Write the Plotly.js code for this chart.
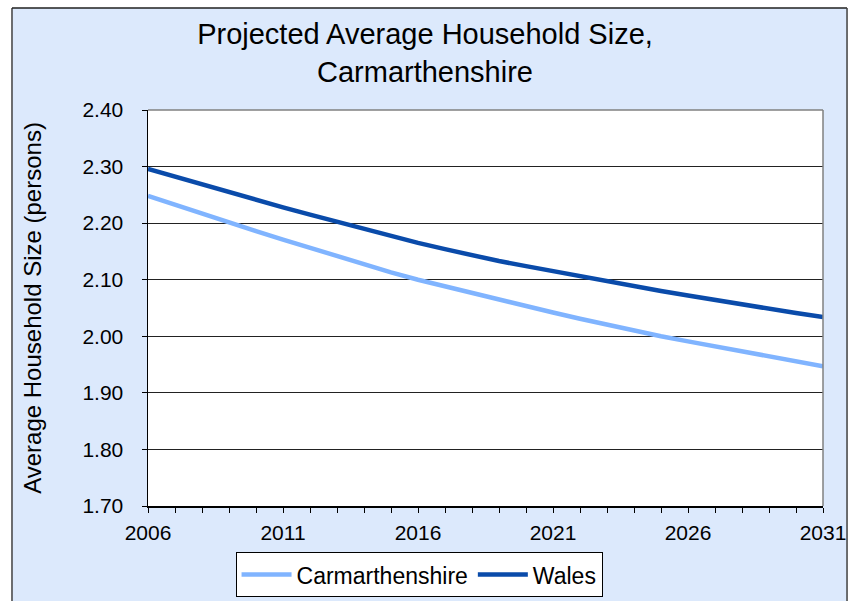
<!DOCTYPE html>
<html>
<head>
<meta charset="utf-8">
<script src="https://cdn.plot.ly/plotly-3.0.1.min.js"></script>
<style>html,body{margin:0;padding:0;background:#fff;}#chart{width:850px;height:601px;}</style>
</head>
<body>
<div id="chart"></div>
<script>
const years = [2006,2007,2008,2009,2010,2011,2012,2013,2014,2015,2016,2017,2018,2019,2020,2021,2022,2023,2024,2025,2026,2027,2028,2029,2030,2031];
const carmarthenshire = [2.248,2.232,2.216,2.201,2.186,2.171,2.156,2.141,2.127,2.113,2.100,2.088,2.076,2.064,2.053,2.042,2.031,2.020,2.010,2.000,1.991,1.982,1.973,1.964,1.955,1.947];
const wales = [2.296,2.282,2.268,2.254,2.241,2.228,2.215,2.202,2.189,2.177,2.165,2.154,2.143,2.133,2.124,2.115,2.105,2.096,2.088,2.080,2.072,2.064,2.057,2.049,2.041,2.034];
const labelYears = [2006,2011,2016,2021,2026,2031];
const yTicks = [1.70,1.80,1.90,2.00,2.10,2.20,2.30,2.40];
const seriesNames = ['Carmarthenshire','Wales'];
const titleText = 'Projected Average Household Size,<br>Carmarthenshire';
const yTitle = 'Average Household Size (persons)';

const FONT = 'Liberation Sans, Arial, sans-serif';
const traces = [
  {x: years, y: carmarthenshire, name: seriesNames[0], type: 'scatter', mode: 'lines',
   line: {color: '#80B4FF', width: 4.5}},
  {x: years, y: wales, name: seriesNames[1], type: 'scatter', mode: 'lines',
   line: {color: '#0A4BAA', width: 4.5}}
];
const layout = {
  width: 850, height: 601,
  paper_bgcolor: '#DCE9FC', plot_bgcolor: '#FFFFFF',
  margin: {l: 148, r: 27, t: 110, b: 95},
  font: {family: FONT, color: '#000'},
  title: {text: titleText, font: {family: FONT, size: 29, color: '#000'},
          x: 0.5, xref: 'container', xanchor: 'center', y: 0.926, yref: 'container', yanchor: 'top'},
  xaxis: {range: [2006, 2031], tickmode: 'array', tickvals: years,
          ticktext: years.map(y => labelYears.includes(y) ? String(y) : ''),
          ticks: 'outside', ticklen: 5, tickcolor: '#000', tickwidth: 1,
          showline: true, linecolor: '#000', linewidth: 1.5, showgrid: false, zeroline: false,
          tickfont: {size: 21, family: FONT}, ticklabelstandoff: 2, fixedrange: true},
  yaxis: {range: [1.70, 2.40], tickmode: 'array', tickvals: yTicks,
          ticktext: yTicks.map(v => v.toFixed(2)),
          ticks: 'outside', ticklen: 5, tickcolor: '#000', tickwidth: 1,
          showline: true, linecolor: '#000', linewidth: 1.5,
          showgrid: true, gridcolor: '#222', gridwidth: 1, zeroline: false,
          tickfont: {size: 21, family: FONT}, ticklabelstandoff: 14,
          title: {text: yTitle, font: {size: 24, family: FONT}, standoff: 34}, fixedrange: true},
  showlegend: true,
  legend: {orientation: 'h', xref: 'container', yref: 'container', x: 0.493, xanchor: 'center', y: 0.0814, yanchor: 'top',
           bgcolor: '#FFFFFF', bordercolor: '#000', borderwidth: 1,
           font: {size: 23, family: FONT}, itemwidth: 50, tracegroupgap: 0},
  shapes: [
    {type: 'rect', xref: 'paper', yref: 'paper', x0: -0.25, x1: -0.2015, y0: -0.3, y1: 1.4, fillcolor: '#FFFFFF', line: {width: 0}, layer: 'below'},
    {type: 'rect', xref: 'paper', yref: 'paper', x0: -0.25, x1: 1.1, y0: 1.2576, y1: 1.4, fillcolor: '#FFFFFF', line: {width: 0}, layer: 'below'},
    {type: 'rect', xref: 'paper', yref: 'paper', x0: 1.0356, x1: 1.1, y0: -0.3, y1: 1.4, fillcolor: '#FFFFFF', line: {width: 0}, layer: 'below'},
    {type: 'line', xref: 'paper', yref: 'paper', x0: -0.2015, x1: -0.2015, y0: -0.3, y1: 1.2576, line: {color: '#404040', width: 1.5}},
    {type: 'line', xref: 'paper', yref: 'paper', x0: -0.2015, x1: 1.0356, y0: 1.2576, y1: 1.2576, line: {color: '#202020', width: 1.5}},
    {type: 'line', xref: 'paper', yref: 'paper', x0: 1.0356, x1: 1.0356, y0: -0.3, y1: 1.2576, line: {color: '#404040', width: 1.5}},
    {type: 'line', xref: 'paper', yref: 'paper', x0: 0, x1: 1, y0: 1, y1: 1, line: {color: '#808080', width: 1.5}},
    {type: 'line', xref: 'paper', yref: 'paper', x0: 1, x1: 1, y0: 0, y1: 1, line: {color: '#808080', width: 1.5}}
  ]
};
Plotly.newPlot('chart', traces, layout, {displayModeBar: false, staticPlot: true});
</script>
</body>
</html>
